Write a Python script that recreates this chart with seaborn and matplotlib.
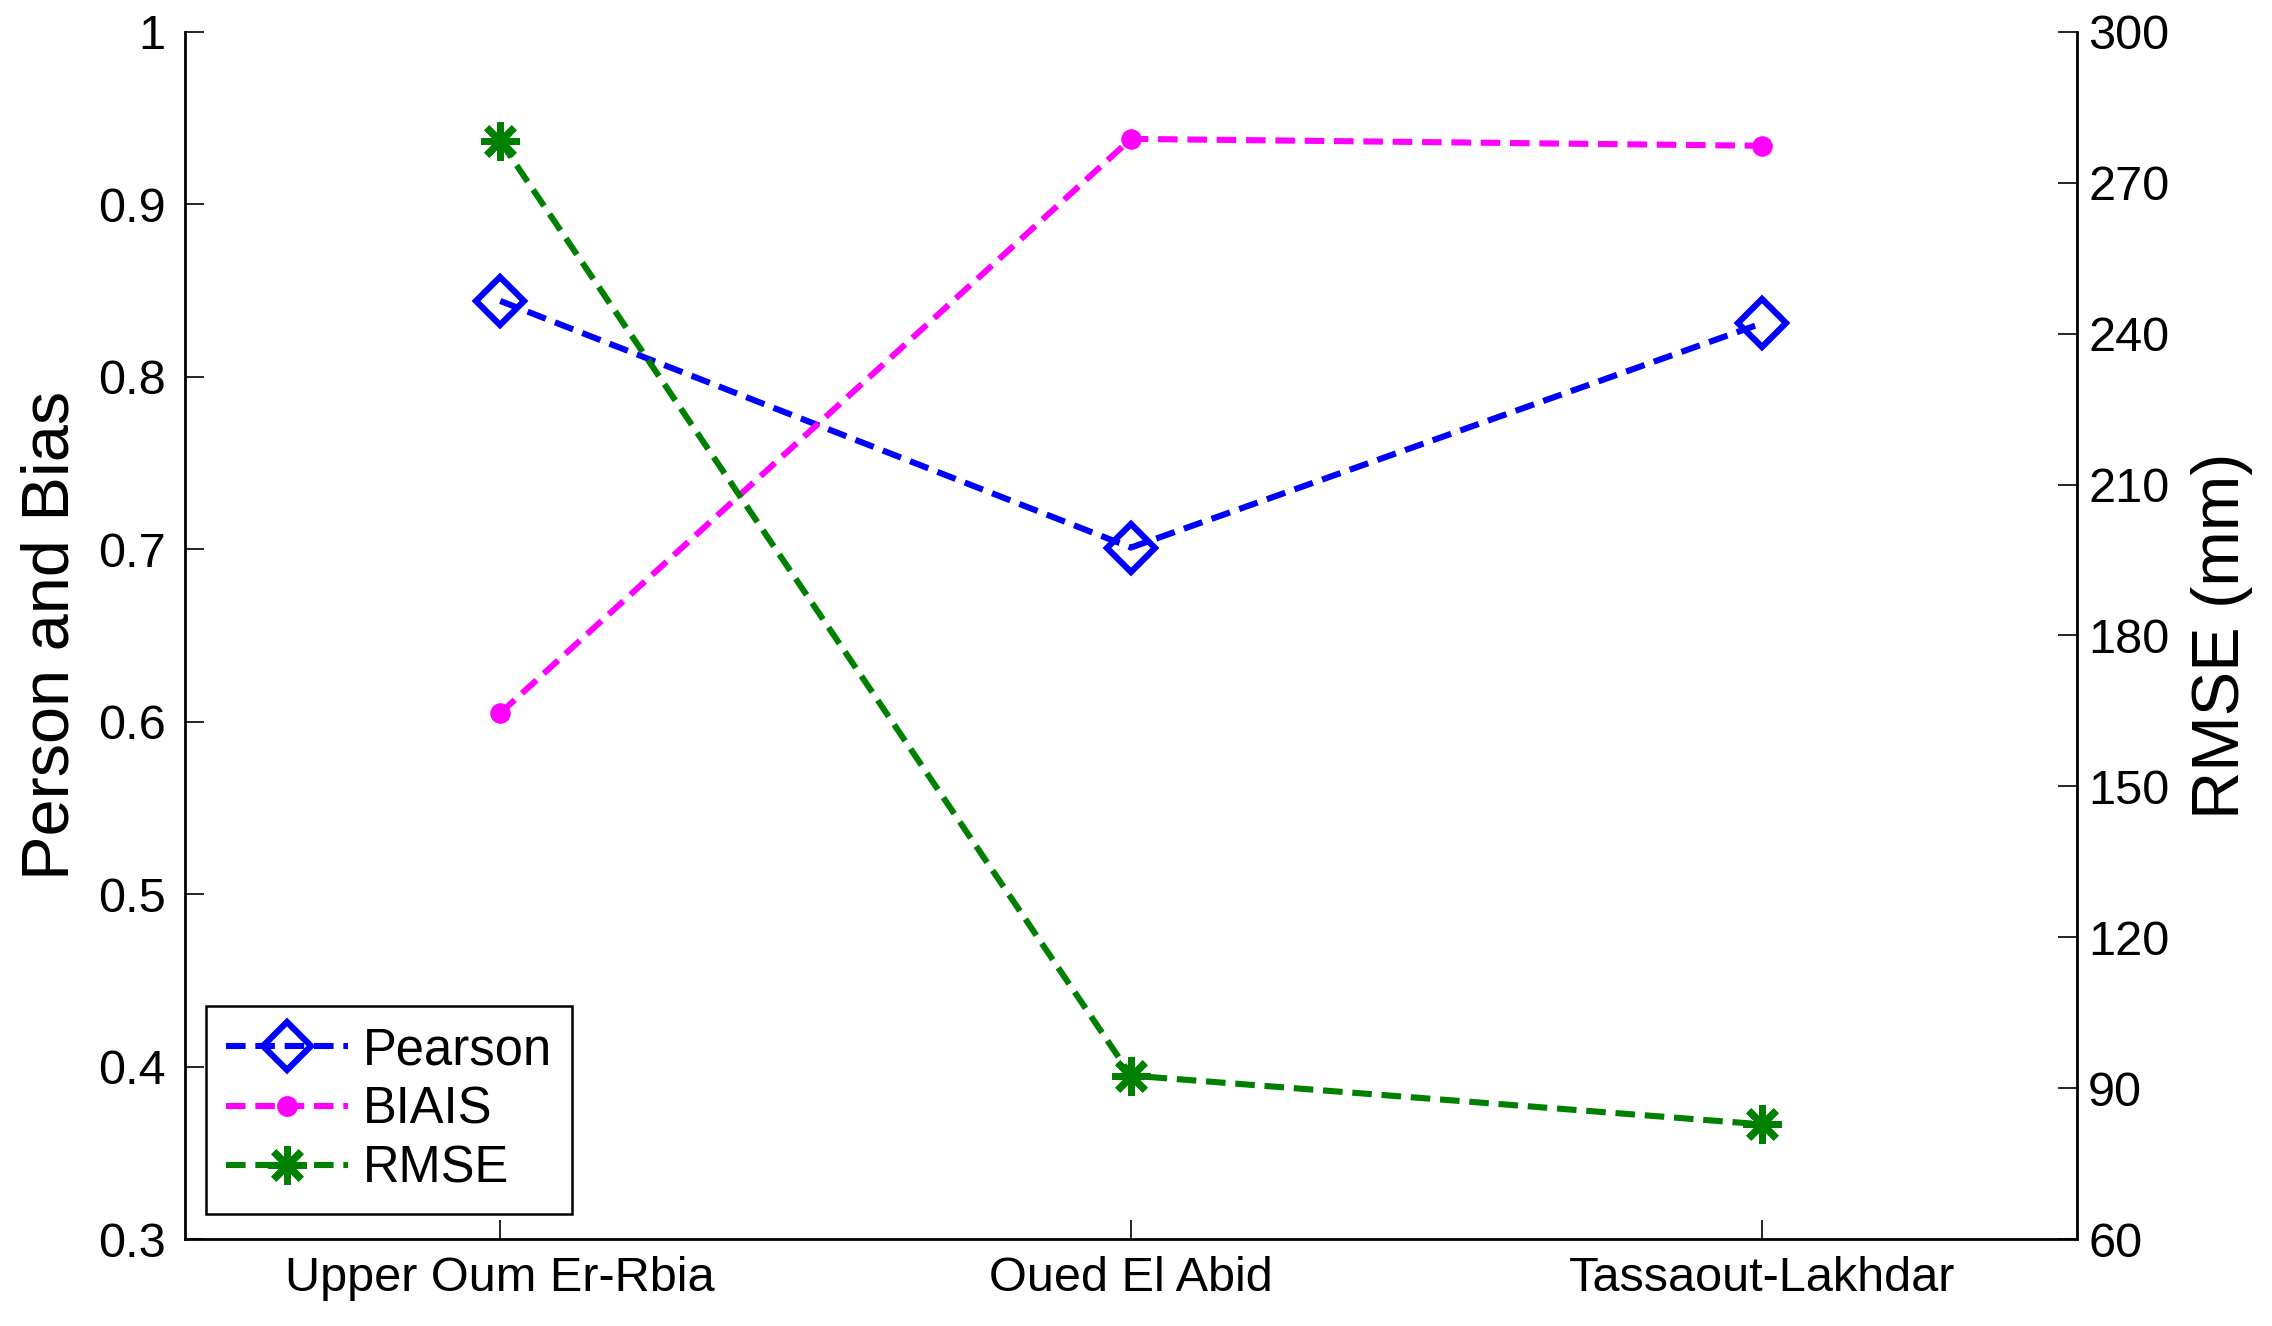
import matplotlib
matplotlib.use("Agg")
import matplotlib.pyplot as plt
import seaborn as sns
import pandas as pd
import numpy as np
from matplotlib.lines import Line2D

categories = ["Upper Oum Er-Rbia", "Oued El Abid", "Tassaout-Lakhdar"]
pearson = [0.844, 0.701, 0.831]
biais = [0.605, 0.938, 0.934]
rmse = [278.3, 92.5, 82.8]
left_ticks = [0.3, 0.4, 0.5, 0.6, 0.7, 0.8, 0.9, 1]
left_ticklabels = ["0.3", "0.4", "0.5", "0.6", "0.7", "0.8", "0.9", "1"]
right_ticks = [60, 90, 120, 150, 180, 210, 240, 270, 300]

sns.set_style("ticks")
plt.rcParams['font.family'] = ['Liberation Sans', 'DejaVu Sans']
plt.rcParams.update({"text.color": "black", "axes.labelcolor": "black",
                     "xtick.color": "black", "ytick.color": "black",
                     "axes.edgecolor": "black"})

pos = np.arange(1, len(categories) + 1)
df = pd.DataFrame({"pos": pos, "Pearson": pearson, "BIAIS": biais, "RMSE": rmse})

fig = plt.figure(figsize=(22.72, 13.26), dpi=100)
ax = fig.add_axes([0.0814, 0.0656, 0.8328, 0.9103])
ax2 = ax.twinx()

lw = 4.4
dash = (3.2, 1.6)
blue = "#0000FF"
mag = "#FF00FF"
green = "#008000"

d_kw = dict(marker="D", markersize=24, markerfacecolor="none", markeredgecolor=blue, markeredgewidth=4.5)
o_kw = dict(marker="o", markersize=14, markerfacecolor=mag, markeredgecolor=mag)
s_kw = dict(marker=(8, 2, 0), markersize=28, markeredgecolor=green, markeredgewidth=5)

sns.lineplot(data=df, x="pos", y="Pearson", ax=ax, color=blue, lw=lw, **d_kw)
sns.lineplot(data=df, x="pos", y="BIAIS", ax=ax, color=mag, lw=lw, **o_kw)
sns.lineplot(data=df, x="pos", y="RMSE", ax=ax2, color=green, lw=lw, **s_kw)
for a in (ax, ax2):
    for ln in a.get_lines():
        ln.set_linestyle((0, dash))

ax.set_xlim(0.5, 3.5)
ax.set_ylim(0.3, 1.0)
ax2.set_ylim(60, 300)
ax.set_xticks(pos)
ax.set_xticklabels(categories)
ax.set_yticks(left_ticks)
ax.set_yticklabels(left_ticklabels)
ax2.set_yticks(right_ticks)

ax.set_xlabel("")
ax.set_ylabel("Person and Bias", fontsize=48, color="black")
ax2.set_ylabel("RMSE (mm)", fontsize=48, color="black")
ax.yaxis.set_label_coords(-0.054, 0.5)
ax2.yaxis.set_label_coords(1.060, 0.5)

ax.tick_params(axis="both", direction="in", labelsize=35, length=14, width=1.2,
               color="black", labelcolor="black")
ax.tick_params(axis="y", pad=14)
ax.tick_params(axis="x", pad=12)
ax2.tick_params(axis="y", direction="in", labelsize=35, length=14, width=1.2, pad=8,
                color="black", labelcolor="black")

for a in (ax, ax2):
    a.spines["top"].set_visible(False)
    for s in a.spines.values():
        s.set_linewidth(2)
        s.set_color("black")
ax.spines["right"].set_visible(False)
ax2.spines["left"].set_visible(False)
ax2.spines["bottom"].set_visible(False)

handles = [
    Line2D([], [], color=blue, lw=lw, linestyle=(0, dash), **d_kw),
    Line2D([], [], color=mag, lw=lw, linestyle=(0, dash), **o_kw),
    Line2D([], [], color=green, lw=lw, linestyle=(0, dash), **s_kw),
]
leg = ax2.legend(handles, ["Pearson", "BIAIS", "RMSE"], loc="lower left",
                 bbox_to_anchor=(0.011, 0.021), borderaxespad=0, fontsize=36.5,
                 handlelength=2.4, handletextpad=0.3, borderpad=0.4,
                 labelspacing=0.2, fancybox=False, framealpha=1, edgecolor="black")
leg.get_frame().set_linewidth(1.8)
for t in leg.get_texts():
    t.set_color("black")

fig.savefig("out.png", dpi=100)
